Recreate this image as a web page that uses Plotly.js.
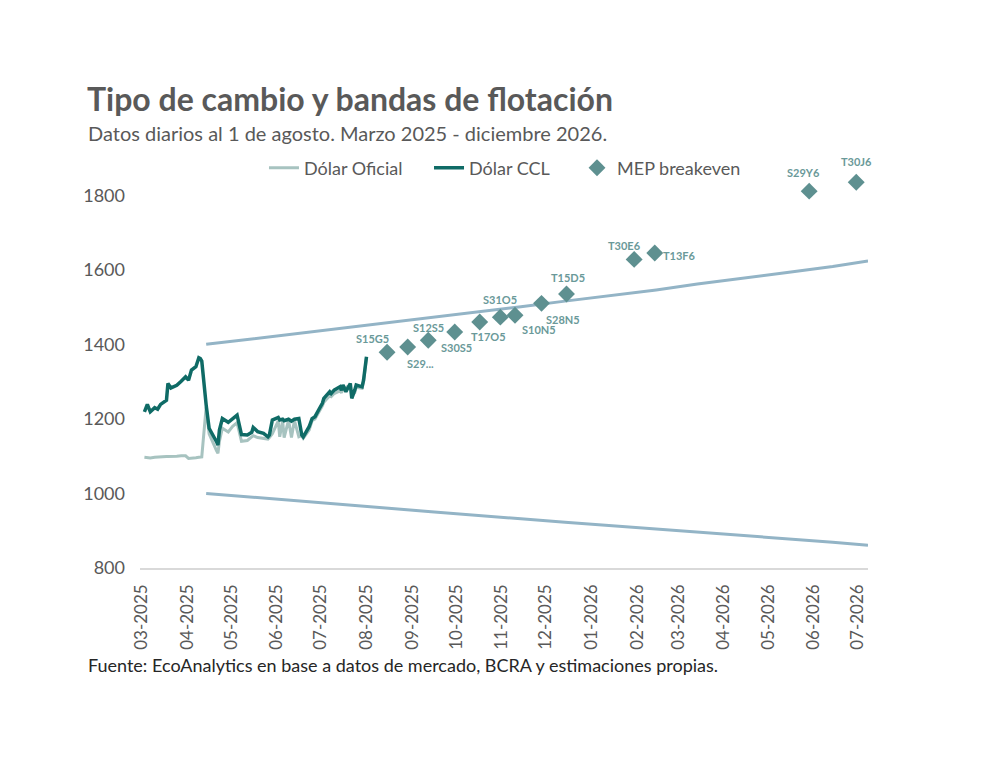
<!DOCTYPE html>
<html lang="es">
<head>
<meta charset="utf-8">
<title>Tipo de cambio y bandas de flotación</title>
<script src="https://cdn.plot.ly/plotly-3.0.1.min.js"></script>
<style>
  html, body { margin: 0; padding: 0; background: #ffffff; }
  #chart { width: 992px; height: 759px; }
</style>
</head>
<body>
<div id="chart"></div>
<script>
// Serie diaria de tipo de cambio (marzo - 1 de agosto de 2025)
const fechasDiarias = [
  "2025-03-03","2025-03-05","2025-03-07","2025-03-10","2025-03-12","2025-03-14","2025-03-18","2025-03-19",
  "2025-03-21","2025-03-25","2025-03-28","2025-03-31","2025-04-02","2025-04-04","2025-04-07","2025-04-09",
  "2025-04-10","2025-04-11","2025-04-14","2025-04-16","2025-04-21","2025-04-22","2025-04-23","2025-04-25",
  "2025-04-29","2025-05-02","2025-05-05","2025-05-08","2025-05-12","2025-05-15","2025-05-16","2025-05-19",
  "2025-05-23","2025-05-26","2025-05-27","2025-05-29","2025-06-02","2025-06-03","2025-06-05","2025-06-06",
  "2025-06-09","2025-06-11","2025-06-13","2025-06-16","2025-06-18","2025-06-19","2025-06-23","2025-06-25",
  "2025-06-27","2025-06-30","2025-07-02","2025-07-03","2025-07-07","2025-07-08","2025-07-10","2025-07-14",
  "2025-07-15","2025-07-16","2025-07-18","2025-07-21","2025-07-22","2025-07-24","2025-07-25","2025-07-29",
  "2025-07-30","2025-08-01"
];
const dolarCCL = [
  1219,1239,1219,1230,1226,1239,1250,1295,
  1283,1290,1301,1313,1304,1331,1340,1364,
  1362,1355,1237,1175,1139,1130,1170,1201,
  1191,1201,1210,1158,1157,1164,1177,1166,
  1161,1152,1157,1197,1204,1197,1199,1195,
  1199,1194,1199,1201,1157,1152,1179,1201,
  1206,1228,1242,1255,1273,1268,1277,1286,
  1277,1291,1273,1295,1255,1277,1291,1286,
  1304,1367
];
const dolarOficial = [
  1097,1096,1095,1097,1098,1099,1099,1099,
  1100,1100,1101,1101,1094,1094,1096,1097,
  1098,1098,1232,1160,1115,1108,1140,1175,
  1165,1180,1190,1140,1142,1150,1155,1150,
  1148,1146,1150,1160,1195,1152,1195,1150,
  1197,1150,1196,1152,1155,1148,1170,1195,
  1200,1220,1235,1245,1262,1260,1268,1275,
  1270,1280,1285,1290,1262,1270,1285,1282,
  1300,1365
];

// Bandas de flotación (techo y piso)
const bandaFechas = [
  "2025-04-14","2025-05-14","2025-06-14","2025-07-14","2025-08-14","2025-09-14","2025-10-14","2025-11-14",
  "2025-12-14","2026-01-14","2026-02-14","2026-03-14","2026-04-14","2026-05-14","2026-06-14","2026-07-08"
];
const bandaSuperior = [1400,1414,1428,1442,1457,1471,1486,1501,1516,1531,1546,1562,1577,1593,1609,1624];
const bandaInferior = [1000,990,980,970,961,951,941,932,923,914,904,895,886,878,869,861];

// Tipo de cambio MEP implícito de breakeven por instrumento (fecha de vencimiento)
const instrumentos = ["S15G5","S29...","S12S5","S30S5","T17O5","S31O5","S10N5","S28N5","T15D5","T30E6","T13F6","S29Y6","T30J6"];
const vencimientos = [
  "2025-08-15","2025-08-29","2025-09-12","2025-09-30","2025-10-17","2025-10-31","2025-11-10","2025-11-28",
  "2025-12-15","2026-01-30","2026-02-13","2026-05-29","2026-06-30"
];
const mepBreakeven = [1379,1393,1411,1433,1460,1473,1478,1510,1535,1628,1645,1811,1835];

// Desplazamiento (px) de cada etiqueta respecto de su marcador
const etiquetaDx = [-15, 13, 0, 2, 9, 0, 24, 21, 1, -10, 25, -6, 0];
const etiquetaDy = [14, -17, 13, -15, -14, 18, -14, -16, 17, 14, -2, 19, 21];

const ejeTicks = [800,1000,1200,1400,1600,1800];

const FUENTE = "Lato, 'Open Sans', sans-serif";
const GRIS = "#595959";

const trazas = [
  {
    x: fechasDiarias, y: dolarOficial, type: "scatter", mode: "lines", name: "Dólar Oficial",
    line: { color: "#a7c3c0", width: 3 }, legend: "legend"
  },
  {
    x: fechasDiarias, y: dolarCCL, type: "scatter", mode: "lines", name: "Dólar CCL",
    line: { color: "#0f6b66", width: 3.5 }, legend: "legend2"
  },
  {
    x: bandaFechas, y: bandaSuperior, type: "scatter", mode: "lines", name: "Banda superior",
    line: { color: "#93b4c6", width: 3 }, showlegend: false
  },
  {
    x: bandaFechas, y: bandaInferior, type: "scatter", mode: "lines", name: "Banda inferior",
    line: { color: "#93b4c6", width: 3 }, showlegend: false
  },
  {
    x: vencimientos, y: mepBreakeven, type: "scatter", mode: "markers", name: "MEP breakeven",
    marker: { symbol: "diamond", size: 13, color: "#5e9090" },
    cliponaxis: false, legend: "legend3"
  }
];

// Etiquetas de cada instrumento, ancladas al punto (vencimiento, breakeven)
const etiquetas = instrumentos.map((nombre, i) => ({
  text: "<b>" + nombre + "</b>",
  x: vencimientos[i], y: mepBreakeven[i], xref: "x", yref: "y",
  xanchor: "center", yanchor: "middle",
  xshift: etiquetaDx[i], yshift: etiquetaDy[i],
  showarrow: false,
  font: { family: FUENTE, size: 11, color: "#6a9999" }
}));

const leyendaBase = {
  orientation: "h", yanchor: "middle", xanchor: "left", y: 0.9756,
  bgcolor: "rgba(0,0,0,0)", borderwidth: 0,
  font: { family: FUENTE, size: 18, color: GRIS }
};

const layout = {
  width: 992, height: 759,
  paper_bgcolor: "#ffffff", plot_bgcolor: "#ffffff",
  margin: { l: 140, r: 124, t: 158, b: 191 },
  font: { family: FUENTE, color: GRIS },
  title: {
    text: "<b>Tipo de cambio y bandas de flotación</b>",
    font: { family: FUENTE, size: 32, color: GRIS },
    xref: "container", yref: "container", x: 0.0877, xanchor: "left", y: 0.868, yanchor: "middle"
  },
  xaxis: {
    type: "date",
    range: ["2025-02-28", "2026-07-08"],
    tick0: "2025-03-01", dtick: "M1", tickformat: "%m-%Y", tickangle: -90,
    tickfont: { family: FUENTE, size: 17, color: GRIS },
    showgrid: false, zeroline: false,
    showline: true, linecolor: "#d9d9d9", linewidth: 1.5,
    ticks: "", ticklabelstandoff: 8
  },
  yaxis: {
    range: [800, 1900],
    tickvals: ejeTicks, ticktext: ejeTicks.map(String),
    tickfont: { family: FUENTE, size: 18, color: GRIS },
    showgrid: false, zeroline: false, showline: false,
    ticks: "", ticklabelstandoff: 14
  },
  legend: Object.assign({}, leyendaBase, { x: 0.1703 }),
  legend2: Object.assign({}, leyendaBase, { x: 0.397 }),
  legend3: Object.assign({}, leyendaBase, { x: 0.6003 }),
  showlegend: true,
  annotations: [
    {
      text: "Datos diarios al 1 de agosto. Marzo 2025 - diciembre 2026.",
      xref: "paper", yref: "paper", x: -0.0742, y: 1.061, xanchor: "left", yanchor: "middle",
      showarrow: false, font: { family: FUENTE, size: 20, color: GRIS }
    },
    {
      text: "Fuente: EcoAnalytics en base a datos de mercado, BCRA y estimaciones propias.",
      xref: "paper", yref: "paper", x: -0.0742, y: -0.2366, xanchor: "left", yanchor: "middle",
      showarrow: false, font: { family: FUENTE, size: 18, color: "#262626" }
    }
  ].concat(etiquetas)
};

Plotly.newPlot("chart", trazas, layout, { displayModeBar: false, staticPlot: true });
</script>
</body>
</html>
